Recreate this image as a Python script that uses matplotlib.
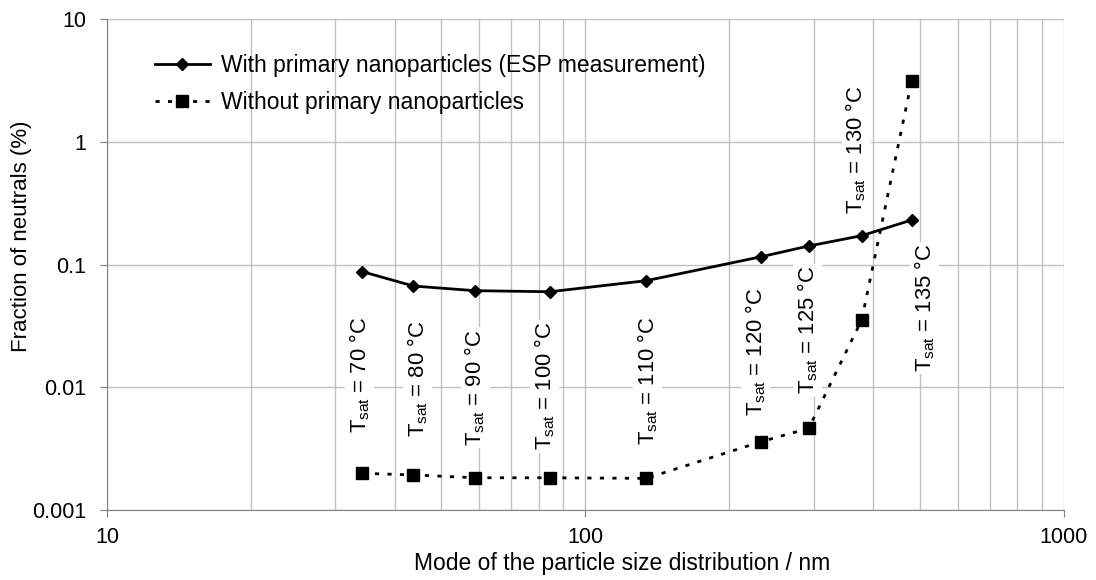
import matplotlib.pyplot as plt
import matplotlib.ticker as mticker

plt.rcParams['font.family'] = ['Liberation Sans', 'DejaVu Sans']
plt.rcParams['mathtext.fontset'] = 'custom'
plt.rcParams['mathtext.rm'] = 'Liberation Sans'
plt.rcParams['mathtext.it'] = 'Liberation Sans'

# mode of the size distribution (nm) and fraction of neutrals (%)
mode_nm = [34.2, 43.7, 58.8, 84.3, 134, 233, 293, 378, 481]
with_primary = [0.0874, 0.0668, 0.0612, 0.0600, 0.0738, 0.1157, 0.1415, 0.1717, 0.2304]
without_primary = [0.00199, 0.00193, 0.00183, 0.00183, 0.00181, 0.0036, 0.00463, 0.0353, 3.14]
t_sat = [70, 80, 90, 100, 110, 120, 125, 130, 135]

# label placement (vertical centre in data units, horizontal nudge in points)
label_y = [0.0126, 0.0117, 0.0099, 0.0102, 0.0112, 0.0194, 0.0292, 0.857, 0.0442]
label_dx = [-2, 3, 0, -4, 1, -4, -1, -4, 9]

fig = plt.figure(figsize=(10.96, 5.8), dpi=100)
ax = fig.add_axes([0.0976, 0.1207, 0.873, 0.8465])

ax.plot(mode_nm, with_primary, color='black', lw=2, marker='D', ms=6.5,
        label='With primary nanoparticles (ESP measurement)', zorder=4)
ax.plot(mode_nm, without_primary, color='black', lw=2, ls=(0, (1.5, 3)),
        marker='s', ms=9, label='Without primary nanoparticles', zorder=4)

for x, y, t, dx in zip(mode_nm, label_y, t_sat, label_dx):
    ax.annotate(r'T$_{\rm sat}$ = %d °C' % t, xy=(x, y), xytext=(dx, 0),
                textcoords='offset points', rotation=90, ha='center', va='center',
                fontsize=15.8, zorder=3,
                bbox=dict(boxstyle='square,pad=0.1', fc='white', ec='none'))

ax.set_xscale('log')
ax.set_yscale('log')
ax.set_xlim(10, 1000)
ax.set_ylim(0.001, 10)

ax.xaxis.set_major_formatter(mticker.FuncFormatter(lambda v, p: '%g' % v))
ax.yaxis.set_major_formatter(mticker.FuncFormatter(lambda v, p: '%g' % v))
ax.xaxis.set_minor_formatter(mticker.NullFormatter())
ax.yaxis.set_minor_locator(mticker.NullLocator())
ax.grid(True, which='major', color='#c0c0c0', lw=1)
ax.grid(True, which='minor', axis='x', color='#c0c0c0', lw=1)
ax.set_axisbelow(True)
ax.tick_params(which='major', length=5, color='#808080', labelsize=15.5)
ax.tick_params(axis='x', pad=7.5)
ax.tick_params(axis='y', pad=10)
ax.tick_params(which='minor', length=0)
for s in ['top', 'right']:
    ax.spines[s].set_visible(False)
for s in ['left', 'bottom']:
    ax.spines[s].set_color('#808080')

ax.set_xlabel('Mode of the particle size distribution / nm', fontsize=16.5, va='center')
ax.set_ylabel('Fraction of neutrals (%)', fontsize=16, va='center')
ax.xaxis.set_label_coords(0.538, -0.108)
ax.yaxis.set_label_coords(-0.089, 0.558)

ax.legend(loc='upper left', bbox_to_anchor=(0.05, 0.929), frameon=False,
          fontsize=16.5, handlelength=2.4, handletextpad=0.5, labelspacing=0.6,
          borderpad=0, borderaxespad=0)

fig.savefig('out.png', dpi=100)
